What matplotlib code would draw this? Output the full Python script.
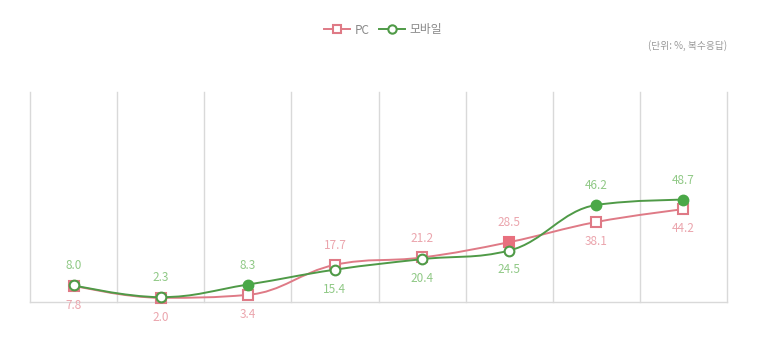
import matplotlib
matplotlib.use("Agg")
import matplotlib.pyplot as plt
from matplotlib.path import Path
import matplotlib.patches as patches
from matplotlib.lines import Line2D

plt.rcParams["font.family"] = ["Noto Sans CJK KR", "DejaVu Sans"]

categories = ["1", "2", "3", "4", "5", "6", "7", "8"]
pc_values = [7.8, 2.0, 3.4, 17.7, 21.2, 28.5, 38.1, 44.2]
mobile_values = [8.0, 2.3, 8.3, 15.4, 20.4, 24.5, 46.2, 48.7]
pc_filled = [5]
mobile_filled = [2, 6, 7]
pc_label_above = [False, False, False, True, True, True, False, False]
mobile_label_above = [True, True, True, False, False, False, True, True]

PC_COLOR = "#df7a86"
PC_LABEL = "#eba5ad"
MO_COLOR = "#4f9a47"
MO_FILL = "#4aa847"
MO_LABEL = "#90c986"
GRID = "#d9d9d9"


def spline_path(xs, ys, smoothing=1.5):
    # highcharts-style spline: control points per point
    n = len(xs)
    lc = [(x, y) for x, y in zip(xs, ys)]
    rc = [(x, y) for x, y in zip(xs, ys)]
    d = smoothing + 1
    for i in range(1, n - 1):
        px, py = xs[i], ys[i]
        lx_, ly_ = xs[i - 1], ys[i - 1]
        nx_, ny_ = xs[i + 1], ys[i + 1]
        lcx = (smoothing * px + lx_) / d
        lcy = (smoothing * py + ly_) / d
        rcx = (smoothing * px + nx_) / d
        rcy = (smoothing * py + ny_) / d
        corr = (rcy - lcy) * (rcx - px) / (rcx - lcx) + py - rcy
        lcy += corr
        rcy += corr
        if lcy > ly_ and lcy > py:
            lcy = max(ly_, py)
            rcy = 2 * py - lcy
        elif lcy < ly_ and lcy < py:
            lcy = min(ly_, py)
            rcy = 2 * py - lcy
        if rcy > ny_ and rcy > py:
            rcy = max(ny_, py)
            lcy = 2 * py - rcy
        elif rcy < ny_ and rcy < py:
            rcy = min(ny_, py)
            lcy = 2 * py - rcy
        lc[i] = (lcx, lcy)
        rc[i] = (rcx, rcy)
    verts = [(xs[0], ys[0])]
    codes = [Path.MOVETO]
    for i in range(1, n):
        verts += [rc[i - 1], lc[i], (xs[i], ys[i])]
        codes += [Path.CURVE4] * 3
    return Path(verts, codes)


fig = plt.figure(figsize=(7.57, 3.62), dpi=100)
ax = fig.add_axes([30 / 757, 1 - 302 / 362, 697 / 757, 210 / 362])
ax.set_xlim(-0.5, len(categories) - 0.5)
ax.set_ylim(0, 100)
ax.axis("off")

# grid
for k in range(len(categories) + 1):
    ax.axvline(k - 0.5, color=GRID, lw=1, zorder=0, clip_on=False)
ax.axhline(0, color=GRID, lw=1, zorder=0, clip_on=False)

xs = list(range(len(categories)))


def draw_series(vals, color, fill, label_color, marker, filled, above, z):
    ax.add_patch(patches.PathPatch(spline_path(xs, vals), fc="none", ec=color,
                                   lw=1.4, zorder=z, clip_on=False))
    for i, v in enumerate(vals):
        fc = fill if i in filled else "white"
        ax.plot(i, v, marker=marker, ms=7 if marker == "o" else 6.5, mfc=fc,
                mec=fill if i in filled else color, mew=1.5, zorder=z + 1,
                clip_on=False)
        off = 14 if above[i] else -14
        ax.annotate(f"{v:.1f}", (i, v), xytext=(0, off), textcoords="offset points",
                    ha="center", va="center", fontsize=8.5, color=label_color,
                    fontweight="light", zorder=z + 2)


draw_series(pc_values, PC_COLOR, "#e8707e", PC_LABEL, "s", pc_filled, pc_label_above, 3)
draw_series(mobile_values, MO_COLOR, MO_FILL, MO_LABEL, "o", mobile_filled, mobile_label_above, 5)

handles = [
    Line2D([], [], color=PC_COLOR, lw=1.4, marker="s", ms=6, mfc="white", mec=PC_COLOR, mew=1.5),
    Line2D([], [], color=MO_COLOR, lw=1.4, marker="o", ms=6, mfc="white", mec=MO_COLOR, mew=1.5),
]
fig.legend(handles, ["PC", "모바일"], loc="center", bbox_to_anchor=(383 / 757, 1 - 30 / 362),
           ncol=2, frameon=False, fontsize=8.5, labelcolor="#888888",
           handlelength=2.2, handletextpad=0.4, columnspacing=0.8,
           prop={"weight": "light", "size": 8.5})

fig.text(727 / 757, 1 - 46 / 362, "(단위: %, 복수응답)", ha="right", va="center",
         fontsize=7, color="#999999", fontweight="light")

fig.savefig("out.png", dpi=100)
